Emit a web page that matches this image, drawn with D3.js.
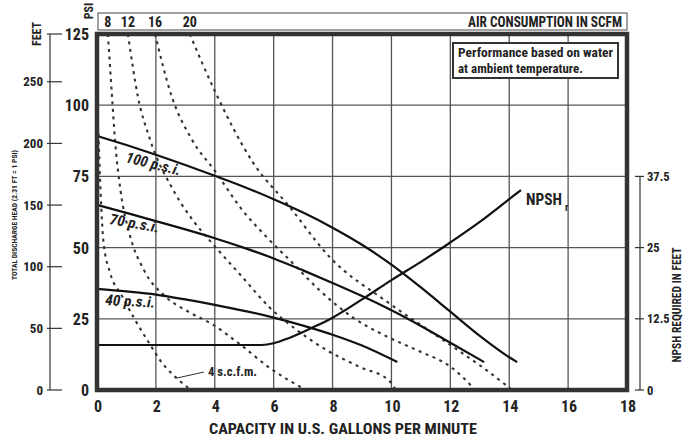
<!DOCTYPE html>
<html><head><meta charset="utf-8">
<script src="https://cdn.jsdelivr.net/npm/d3@7"></script>
<style>
html,body{margin:0;padding:0;background:#fff;}
svg{display:block;}
text{font-family:"Liberation Sans Narrow","Arial Narrow","Roboto Condensed","Liberation Sans",sans-serif;font-weight:bold;fill:#222;}
</style></head>
<body>
<svg id="c" width="688" height="441"></svg>
<script>
// ---------------- DATA ----------------
const xTicks = [0, 2, 4, 6, 8, 10, 12, 14, 16, 18];
const psiTicks = [0, 25, 50, 75, 100, 125];
const feetTicks = [0, 50, 100, 150, 200, 250];
const npshTicks = [0, 12.5, 25, 37.5];
const npshTickLabels = ["0", "12.5", "25", "37.5"];

// head-capacity curves (gpm, psi)
const psi100 = [[0,89.2],[1,86],[2,82.6],[3,79],[4,75.2],[5,71.3],[6,67],[7,62.3],[8,57],[9,51],[10,44],[11,36],[12,27.5],[13,19],[14,11.5],[14.27,9.8]];
const psi70  = [[0,65],[1,62.2],[2,59.3],[3,56.4],[4,53.3],[5,49.9],[6,46.2],[7,42],[8,37.6],[9,33],[10,28],[11,22.5],[12,16.6],[13.15,9.8]];
const psi40  = [[0,35.5],[1,34.6],[2,33.5],[3,31.8],[4,29.9],[5,27.8],[6,25.4],[7,22.6],[8,19.4],[9,15.6],[10.2,9.8]];
// NPSH required (gpm, feet)
const npshR  = [[0,7.9],[5.6,7.9],[6.0,8.2],[6.5,9.1],[7,10.2],[7.5,11.4],[8,12.7],[9,15.9],[10,19.3],[11,22.5],[12,25.9],[13,29.5],[14,33.5],[14.4,35.1]];
// air consumption curves (gpm, psi)
const scfm4  = [[0.05,90],[0.12,70],[0.22,52],[0.45,41],[0.85,33],[1.3,24.5],[1.8,16],[2.14,10.5],[2.7,4.2],[3.2,0]];
const scfm8  = [[0.37,125],[0.51,103],[0.61,88],[0.8,70],[1.1,55],[1.6,42],[2.3,33],[3.1,27.5],[3.93,23],[4.8,16.5],[5.9,7.5],[7.1,0]];
const scfm12 = [[1.05,125],[1.39,103],[1.8,88],[2.6,70],[3.3,59],[3.93,51.3],[4.95,39.5],[5.86,29],[6.78,21.1],[7.8,14],[8.92,8.1],[9.93,3.2],[10.15,0]];
const scfm16 = [[1.97,125],[2.54,103],[3.22,88],[4.0,77],[4.95,63],[5.76,53.7],[6.64,44.6],[7.56,35],[8.68,25.5],[9.8,19],[10.9,13.8],[12.03,8],[12.85,0]];
const scfm20 = [[3.15,125],[4.0,105],[5.29,80],[6.54,64.3],[7.9,46.7],[9.85,31],[11.0,22.8],[12.03,15.6],[13.05,8.3],[14.1,0]];
const airTopLabels = ["8", "12", "16", "20"];

// ---------------- DRAW ----------------
const svg = d3.select("#c");
const x = d3.scaleLinear().domain([0, 18]).range([97, 627]);
const y = d3.scaleLinear().domain([0, 125]).range([390, 34]);
const yFeet = d3.scaleLinear().domain([0, 125 * 2.31]).range([390, 34]);
const yNpsh = d3.scaleLinear().domain([0, 62.5]).range([390, 34]);

function T(sel, str, a) {
  const t = sel.append("text").text(str);
  for (const k in a) t.attr(k, a[k]);
  return t;
}

// grid
const grid = svg.append("g").attr("stroke", "#555").attr("stroke-width", 1.3);
xTicks.slice(1, -1).forEach(v => grid.append("line").attr("x1", x(v)).attr("x2", x(v)).attr("y1", y(125)).attr("y2", y(0)));
psiTicks.slice(1, -1).forEach(v => grid.append("line").attr("x1", x(0)).attr("x2", x(18)).attr("y1", y(v)).attr("y2", y(v)));

// air consumption dashed curves
const line = d3.line().x(d => x(d[0])).y(d => y(d[1])).curve(d3.curveMonotoneX);
[scfm4, scfm8, scfm12, scfm16, scfm20].forEach(s => {
  svg.append("path").attr("d", line(s)).attr("fill", "none").attr("stroke", "#333")
    .attr("stroke-width", 2.1).attr("stroke-dasharray", "3,4.5");
});

// head curves
[psi100, psi70, psi40].forEach(s => {
  svg.append("path").attr("d", line(s)).attr("fill", "none").attr("stroke", "#111").attr("stroke-width", 2.2);
});
// NPSH curve
const lineN = d3.line().x(d => x(d[0])).y(d => yNpsh(d[1])).curve(d3.curveMonotoneX);
svg.append("path").attr("d", lineN(npshR)).attr("fill", "none").attr("stroke", "#111").attr("stroke-width", 2.2);

// frame
svg.append("rect").attr("x", x(0)).attr("y", y(125)).attr("width", x(18) - x(0)).attr("height", y(0) - y(125))
  .attr("fill", "none").attr("stroke", "#333").attr("stroke-width", 4.5);

// top strip
svg.append("rect").attr("x", 98).attr("y", 13).attr("width", 529).attr("height", 17)
  .attr("fill", "none").attr("stroke", "#444").attr("stroke-width", 1);
[scfm8, scfm12, scfm16, scfm20].forEach((s, i) => {
  T(svg, airTopLabels[i], {x: x(s[0][0]), y: 27, "text-anchor": "middle", "font-size": 14});
});
T(svg, "AIR CONSUMPTION IN SCFM", {x: 468, y: 27, "font-size": 14, textLength: 154, lengthAdjust: "spacingAndGlyphs"});
T(svg, "PSI", {transform: "translate(93,11) rotate(-90)", "text-anchor": "middle", "font-size": 12});

// note box
svg.append("rect").attr("x", 453).attr("y", 43).attr("width", 165).attr("height", 35)
  .attr("fill", "#fff").attr("stroke", "#333").attr("stroke-width", 2);
T(svg, "Performance based on water", {x: 458, y: 57, "font-size": 13, textLength: 155, lengthAdjust: "spacingAndGlyphs"});
T(svg, "at ambient temperature.", {x: 458, y: 73, "font-size": 13, textLength: 125, lengthAdjust: "spacingAndGlyphs"});

// inner psi labels
psiTicks.forEach(v => T(svg, v, {x: 89, y: y(v) + 6, "text-anchor": "end", "font-size": 16}));
// x labels
xTicks.forEach(v => T(svg, v, {x: x(v) + 1, y: 412, "text-anchor": "middle", "font-size": 16}));
T(svg, "CAPACITY IN U.S. GALLONS PER MINUTE", {x: 209, y: 434, "font-size": 15, textLength: 268, lengthAdjust: "spacingAndGlyphs"});

// outer feet axis
const fa = svg.append("g").attr("stroke", "#333").attr("stroke-width", 1.2);
fa.append("line").attr("x1", 50).attr("x2", 50).attr("y1", 34).attr("y2", 390);
fa.append("line").attr("x1", 47).attr("x2", 62).attr("y1", 34).attr("y2", 34);
feetTicks.forEach(v => {
  fa.append("line").attr("x1", 47).attr("x2", 62).attr("y1", yFeet(v)).attr("y2", yFeet(v));
  T(svg, v, {x: 43, y: yFeet(v) + 4.5, "text-anchor": "end", "font-size": 13});
});
T(svg, "FEET", {transform: "translate(41,34) rotate(-90)", "text-anchor": "middle", "font-size": 12});
T(svg, "TOTAL DISCHARGE HEAD (2.31 FT = 1 PSI)", {transform: "translate(17,215) rotate(-90)", "text-anchor": "middle", "font-size": 7.5, "font-weight": "normal", textLength: 130, lengthAdjust: "spacingAndGlyphs"});

// right npsh axis
const ra = svg.append("g").attr("stroke", "#333").attr("stroke-width", 1.2);
ra.append("line").attr("x1", 640).attr("x2", 640).attr("y1", yNpsh(37.5)).attr("y2", yNpsh(0));
npshTicks.forEach((v, i) => {
  ra.append("line").attr("x1", 635).attr("x2", 644).attr("y1", yNpsh(v)).attr("y2", yNpsh(v));
  T(svg, npshTickLabels[i], {x: 647, y: yNpsh(v) + 4.5, "font-size": 12.5});
});
T(svg, "NPSH REQUIRED IN FEET", {transform: "translate(681,305) rotate(-90)", "text-anchor": "middle", "font-size": 12, textLength: 115, lengthAdjust: "spacingAndGlyphs"});

// curve labels
T(svg, "100 p.s.i.", {transform: "translate(125,162) rotate(14)", "font-size": 15, "font-style": "italic", textLength: 56, lengthAdjust: "spacingAndGlyphs"});
T(svg, "70 p.s.i.", {transform: "translate(109,224) rotate(10)", "font-size": 15, "font-style": "italic", textLength: 50, lengthAdjust: "spacingAndGlyphs"});
T(svg, "40 p.s.i.", {transform: "translate(105,305) rotate(3)", "font-size": 15, "font-style": "italic", textLength: 50, lengthAdjust: "spacingAndGlyphs"});
T(svg, "NPSH", {x: 526, y: 205, "font-size": 17, textLength: 36, lengthAdjust: "spacingAndGlyphs"});
T(svg, "r", {x: 565, y: 211, "font-size": 10});
svg.append("line").attr("x1", 204).attr("y1", 372).attr("x2", 177).attr("y2", 378).attr("stroke", "#333").attr("stroke-width", 1);
T(svg, "4 s.c.f.m.", {x: 208, y: 376, "font-size": 13, textLength: 49, lengthAdjust: "spacingAndGlyphs"});
</script>
</body></html>
